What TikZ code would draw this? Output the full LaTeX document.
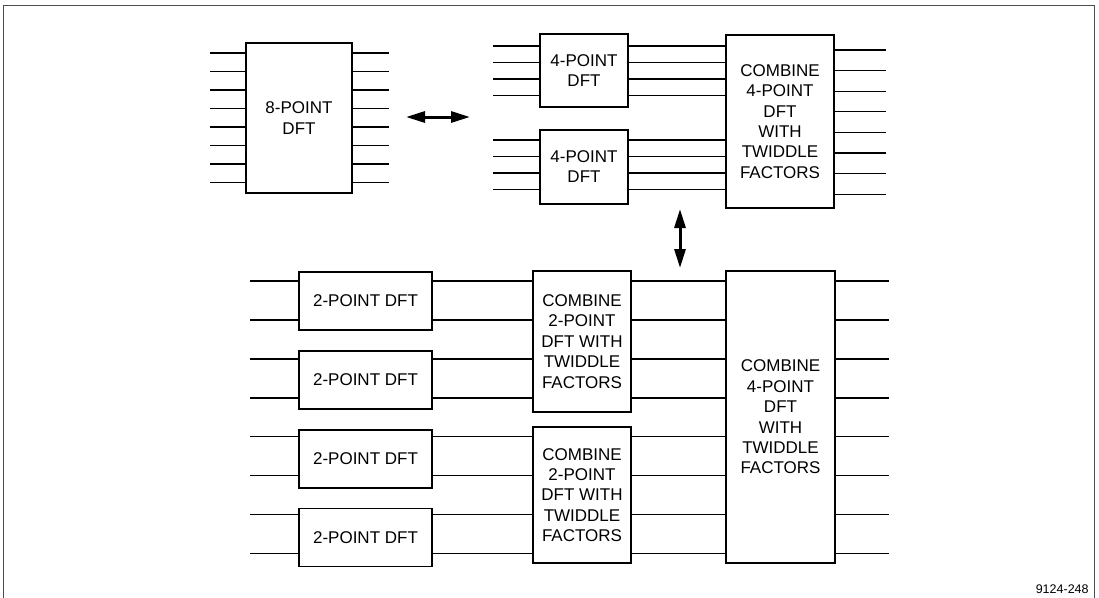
\documentclass[tikz,border=0pt]{standalone}
\usepackage{fontspec}
\setmainfont{Liberation Sans}
\usetikzlibrary{arrows.meta,positioning}

\begin{document}
\begin{tikzpicture}[x=1pt, y=-1pt, thick]
    % Styles
    \tikzstyle{block}=[rectangle, draw=black, line width=1.8pt, inner sep=0pt, align=center, font=\fontsize{17}{20.4}\selectfont]
    \tikzstyle{twobox}=[block, minimum width=133pt, minimum height=58pt]
    \tikzstyle{wire}=[line width=1.1pt]
    \tikzstyle{dblarrow}=[{Triangle[length=19pt,width=11pt]}-{Triangle[length=19pt,width=11pt]}, line width=3pt]

    \useasboundingbox (0,0) rectangle (1099,597);

    % Frame
    \draw [gray!60!black, line width=0.8pt] (3,600) -- (3,5) -- (1094,5) -- (1094,600);

    % Nodes
    \node (dft8) [block, minimum width=106pt, minimum height=150pt] at (299,118) {8-POINT\\DFT};

    \node (dft4a) [block, minimum width=88pt, minimum height=73pt] at (584,70.5) {4-POINT\\DFT};
    \node (dft4b) [block, minimum width=88pt, minimum height=74pt, below=21pt of dft4a] {4-POINT\\DFT};
    \node (comb4a) [block, minimum width=108pt, minimum height=173pt] at (780,121.5) {COMBINE\\4-POINT\\DFT\\WITH\\TWIDDLE\\FACTORS};

    \node (dft2a) [twobox] at (365.5,301) {2-POINT DFT};
    \node (dft2b) [twobox, below=19pt of dft2a] {2-POINT DFT};
    \node (dft2c) [twobox, below=19pt of dft2b] {2-POINT DFT};
    \node (dft2d) [twobox, below=19pt of dft2c] {2-POINT DFT};

    \node (comb2a) [block, minimum width=98pt, minimum height=141pt] at (582,341.5) {COMBINE\\2-POINT\\DFT WITH\\TWIDDLE\\FACTORS};
    \node (comb2b) [block, minimum width=98pt, minimum height=136pt] at (582,495) {COMBINE\\2-POINT\\DFT WITH\\TWIDDLE\\FACTORS};
    \node (comb4b) [block, minimum width=109pt, minimum height=292pt] at (780.5,417) {COMBINE\\4-POINT\\DFT\\WITH\\TWIDDLE\\FACTORS};

    \node (tag) [anchor=north east, inner sep=0pt, font=\fontsize{12.5}{14}\selectfont] at (1089,584) {9124-248};

    % Free ends of the wires
    \coordinate (in8) at (210,0);
    \coordinate (out8) at (389,0);
    \coordinate (in4) at (493,0);
    \coordinate (out4) at (886,0);
    \coordinate (in2) at (250,0);
    \coordinate (out2) at (889,0);

    % Wires
    \foreach \i in {0,...,7} {
        \pgfmathsetmacro{\y}{53+18.5*\i}
        \draw [wire] (in8 |- 0,\y) -- (dft8.west |- 0,\y);
        \draw [wire] (dft8.east |- 0,\y) -- (out8 |- 0,\y);
        \pgfmathsetmacro{\yr}{50+20.6*\i}
        \draw [wire] (comb4a.east |- 0,\yr) -- (out4 |- 0,\yr);
    }
    \foreach \i in {0,...,3} {
        \pgfmathsetmacro{\ya}{46+16.5*\i}
        \pgfmathsetmacro{\yb}{140+16.5*\i}
        \draw [wire] (in4 |- 0,\ya) -- (dft4a.west |- 0,\ya);
        \draw [wire] (dft4a.east |- 0,\ya) -- (comb4a.west |- 0,\ya);
        \draw [wire] (in4 |- 0,\yb) -- (dft4b.west |- 0,\yb);
        \draw [wire] (dft4b.east |- 0,\yb) -- (comb4a.west |- 0,\yb);
    }
    \foreach \y/\b/\c in {281/dft2a/comb2a, 320/dft2a/comb2a, 359/dft2b/comb2a, 398/dft2b/comb2a,
                          436.5/dft2c/comb2b, 475.5/dft2c/comb2b, 514.5/dft2d/comb2b, 553.5/dft2d/comb2b} {
        \draw [wire] (in2 |- 0,\y) -- (\b.west |- 0,\y);
        \draw [wire] (\b.east |- 0,\y) -- (\c.west |- 0,\y);
        \draw [wire] (\c.east |- 0,\y) -- (comb4b.west |- 0,\y);
        \draw [wire] (comb4b.east |- 0,\y) -- (out2 |- 0,\y);
    }

    % Arrows
    \coordinate (hl) at (406,117);
    \coordinate (hr) at (470,117);
    \coordinate (vt) at (680,209);
    \coordinate (vb) at (680,268);
    \draw [dblarrow] (hl) -- (hr);
    \draw [dblarrow] (vt) -- (vb);

\end{tikzpicture}
\end{document}
